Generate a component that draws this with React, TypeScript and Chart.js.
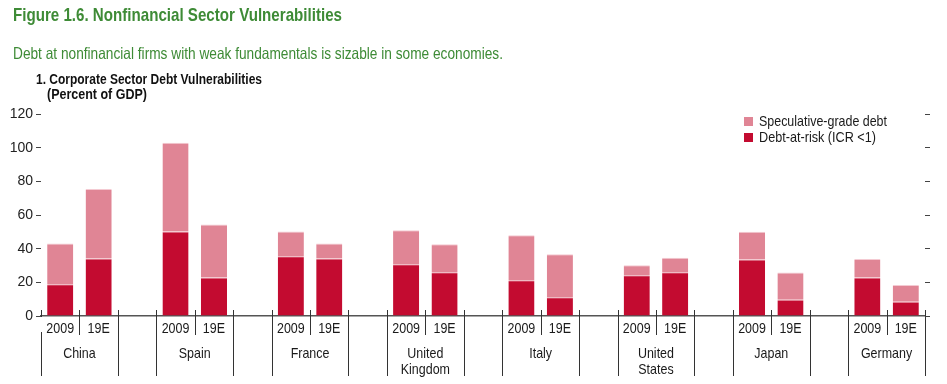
import React, { useEffect, useRef } from 'react';
import { Chart, registerables } from 'chart.js';

Chart.register(...registerables);

const FONT = "'Liberation Sans', Arial, sans-serif";

const countries: string[][] = [
  ['China'], ['Spain'], ['France'], ['United', 'Kingdom'],
  ['Italy'], ['United', 'States'], ['Japan'], ['Germany'],
];
const periods = ['2009', '19E'];
const debtAtRisk2009 = [18.9, 50.2, 35.5, 30.7, 21.2, 24.2, 33.5, 22.8];
const debtAtRisk19E = [34.1, 22.8, 34.1, 26.0, 11.1, 26.0, 9.7, 8.5];
const speculative2009 = [24.2, 52.7, 14.7, 20.3, 26.8, 5.9, 16.5, 11.1];
const speculative19E = [41.4, 31.6, 9.0, 16.6, 25.6, 8.6, 16.1, 9.9];
const yMin = 0;
const yMax = 120;
const yStep = 20;

const DARK = '#C30B30';
const PINK = '#E08595';
const GREEN = '#3E8B36';
const NARROW = 0.86;

const labels: string[] = [];
const darkData: (number | null)[] = [];
const pinkData: (number | null)[] = [];
countries.forEach((_, i) => {
  labels.push(periods[0], periods[1]);
  darkData.push(debtAtRisk2009[i], debtAtRisk19E[i]);
  pinkData.push(speculative2009[i], speculative19E[i]);
  if (i < countries.length - 1) {
    labels.push('');
    darkData.push(null);
    pinkData.push(null);
  }
});

const drawNarrow = (ctx: any, t: string, x: number, y: number) => {
  ctx.save();
  ctx.translate(x, y);
  ctx.scale(NARROW, 1);
  ctx.fillText(t, 0, 0);
  ctx.restore();
};

const separatorPlugin = {
  id: 'separators',
  afterDraw(chart: any) {
    const ctx = chart.ctx;
    const xs = chart.scales.x;
    const base = chart.chartArea.bottom;
    ctx.save();
    ctx.strokeStyle = '#333';
    ctx.lineWidth = 1;
    const line = (x: number, y1: number, y2: number) => {
      const px = Math.round(x) + 0.5;
      ctx.beginPath();
      ctx.moveTo(px, y1);
      ctx.lineTo(px, y2);
      ctx.stroke();
    };
    ctx.fillStyle = '#1a1a1a';
    ctx.textAlign = 'center';
    ctx.textBaseline = 'middle';
    ctx.font = `14.5px ${FONT}`;
    countries.forEach((c, i) => {
      const a = xs.getPixelForValue(3 * i);
      const b = xs.getPixelForValue(3 * i + 1);
      const half = (b - a) / 2;
      const L = a - half;
      const M = a + half;
      const R = b + half;
      line(M, base - 6, base + 19);
      if (i === 0) {
        line(L, base - 6, base + 1);
        line(L, base + 16, base + 60);
      } else {
        line(L, base - 6, base + 60);
      }
      line(R, base - 6, base + 60);
      drawNarrow(ctx, periods[0], a, base + 13);
      drawNarrow(ctx, periods[1], b, base + 13);
      const cx = (a + b) / 2;
      c.forEach((t, k) => drawNarrow(ctx, t, cx, base + 38 + k * 16));
    });
    ctx.restore();
  },
};

const measureCtx = typeof document !== 'undefined' ? document.createElement('canvas').getContext('2d') : null;

function FitText(props: { text: string; left: number; top: number; width: number; size: number; bold?: boolean; color: string }) {
  const { text, left, top, width, size, bold, color } = props;
  let scale = 1;
  if (measureCtx) {
    measureCtx.font = `${bold ? 'bold ' : ''}${size}px ${FONT}`;
    const w = measureCtx.measureText(text).width;
    if (w > 0) scale = width / w;
  }
  return (
    <div
      style={{
        position: 'absolute',
        left,
        top,
        fontFamily: FONT,
        fontSize: size,
        fontWeight: bold ? 'bold' : 'normal',
        color,
        lineHeight: 1,
        whiteSpace: 'nowrap',
        transform: `scaleX(${scale})`,
        transformOrigin: 'left top',
      }}
    >
      {text}
    </div>
  );
}

export default function App() {
  const ref = useRef<HTMLCanvasElement | null>(null);
  useEffect(() => {
    if (!ref.current) return;
    const chart = new Chart(ref.current, {
      type: 'bar',
      data: {
        labels,
        datasets: [
          {
            label: 'Debt-at-risk (ICR <1)',
            data: darkData,
            backgroundColor: DARK,
            borderColor: '#E58D9D',
            borderWidth: { top: 1, left: 0, right: 0, bottom: 0 },
            borderSkipped: false,
            barPercentage: 0.68,
            categoryPercentage: 1,
          },
          {
            label: 'Speculative-grade debt',
            data: pinkData,
            backgroundColor: PINK,
            borderColor: '#F4CAD2',
            borderWidth: { top: 1, left: 0, right: 0, bottom: 0 },
            borderSkipped: false,
            barPercentage: 0.68,
            categoryPercentage: 1,
          },
        ],
      },
      options: {
        responsive: false,
        animation: false,
        layout: { padding: { top: 114, left: 0, right: 0, bottom: 0 } },
        plugins: { legend: { display: false }, tooltip: { enabled: false } },
        scales: {
          x: {
            stacked: true,
            grid: { display: false },
            border: { display: true, color: '#555', width: 1.5 },
            ticks: { display: false },
            afterFit: (s: any) => { s.height = 68; },
          },
          y: {
            stacked: true,
            min: yMin,
            max: yMax,
            ticks: { stepSize: yStep, color: '#222', font: { size: 14, family: FONT }, padding: 3 },
            grid: { drawOnChartArea: false, drawTicks: true, tickLength: 5, color: '#444' },
            border: { display: false },
            afterFit: (s: any) => { s.width = 41; },
          },
          y2: {
            position: 'right',
            min: yMin,
            max: yMax,
            ticks: { stepSize: yStep, display: false },
            grid: { drawOnChartArea: false, drawTicks: true, tickLength: 5, color: '#444' },
            border: { display: false },
            afterFit: (s: any) => { s.width = 22; },
          },
        },
      },
      plugins: [separatorPlugin],
    } as any);
    return () => chart.destroy();
  }, []);

  return (
    <div style={{ position: 'absolute', left: 0, top: 0, width: 947, height: 384, background: '#fff' }}>
      <canvas ref={ref} width={947} height={384} style={{ position: 'absolute', left: 0, top: 0, width: 947, height: 384 }} />
      <FitText text="Figure 1.6. Nonfinancial Sector Vulnerabilities" left={13} top={6} width={329} size={18.5} bold color={GREEN} />
      <FitText text="Debt at nonfinancial firms with weak fundamentals is sizable in some economies." left={13} top={45} width={490} size={16.5} color={GREEN} />
      <FitText text="1. Corporate Sector Debt Vulnerabilities" left={36} top={72} width={226} size={14} bold color="#111" />
      <FitText text="(Percent of GDP)" left={47} top={87} width={100} size={14} bold color="#111" />
      <div style={{ position: 'absolute', left: 744, top: 117, width: 9, height: 9, background: PINK }} />
      <FitText text="Speculative-grade debt" left={759} top={114} width={128} size={14.5} color="#1a1a1a" />
      <div style={{ position: 'absolute', left: 744, top: 133, width: 9, height: 9, background: DARK }} />
      <FitText text="Debt-at-risk (ICR <1)" left={759} top={130} width={117} size={14.5} color="#1a1a1a" />
    </div>
  );
}
